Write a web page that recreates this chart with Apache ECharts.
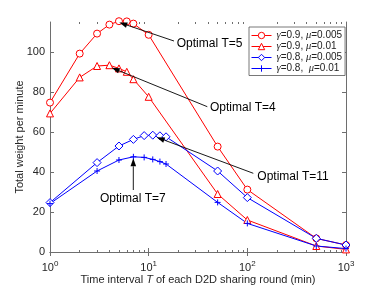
<!DOCTYPE html>
<html><head><meta charset="utf-8">
<script src="https://cdn.jsdelivr.net/npm/echarts@6/dist/echarts.min.js"></script>
<style>html,body{margin:0;padding:0;background:#fff}#c{width:382px;height:286px}</style>
</head><body><div id="c"></div>
<script>
// ---- data ----
const tRed = [1, 2, 3, 4, 5, 6, 7, 10, 50, 100, 500, 1000];
const tBlue = [1, 3, 5, 7, 9, 11, 13, 15, 50, 100, 500, 1000];
const g09mu005 = [74.7, 99.2, 109.2, 113.7, 115.4, 115.3, 114.2, 108.6, 52.7, 31.2, 6.8, 3.5];
const g09mu01  = [69.3, 87.3, 93.0, 93.4, 91.8, 90.1, 86.4, 77.6, 29.0, 16.0, 3.0, 1.3];
const g08mu005 = [24.7, 44.7, 53.0, 56.3, 58.2, 58.4, 58.1, 57.6, 40.5, 27.2, 6.8, 3.5];
const g08mu01  = [24.2, 40.5, 46.0, 47.6, 47.3, 46.3, 45.2, 44.0, 24.8, 14.3, 3.0, 1.7];
const seriesNames = ['γ=0.9, μ=0.005', 'γ=0.9, μ=0.01', 'γ=0.8, μ=0.005', 'γ=0.8,  μ=0.01'];
const yTicks = [0, 20, 40, 60, 80, 100];
const xMajor = [1, 10, 100, 1000];
const xMinor = [2,3,4,5,6,7,8,9,20,30,40,50,60,70,80,90,200,300,400,500,600,700,800,900];
const notes = ['Optimal T=5', 'Optimal T=4', 'Optimal T=11', 'Optimal T=7'];

const chart = echarts.init(document.getElementById('c'));
const FONT = 'Liberation Sans';
const AX = '#6e6e6e';
const zip = (xs, ys) => xs.map((x, i) => [x, ys[i]]);
const plusPath = 'path://M5,0L5,10M0,5L10,5';

function mkSeries(name, xs, ys, color, symbol, size) {
  const isPath = symbol.startsWith('path');
  return {
    name, type: 'line', data: zip(xs, ys), xAxisIndex: 0, yAxisIndex: 0,
    symbol, symbolSize: size, clip: false, animation: false,
    lineStyle: { color, width: 1 },
    itemStyle: { color: isPath ? color : '#ffffff', borderColor: color, borderWidth: 1 },
    emphasis: { disabled: true }
  };
}

function arrow(x1, y1, x2, y2) {
  const dx = x2 - x1, dy = y2 - y1, L = Math.hypot(dx, dy);
  const ux = dx / L, uy = dy / L, hl = 8, hw = 2.8;
  const bx = x2 - ux * hl, by = y2 - uy * hl;
  return [
    { type: 'line', shape: { x1, y1, x2: bx, y2: by }, style: { stroke: '#000', lineWidth: 0.9 }, z: 50 },
    { type: 'polygon', shape: { points: [[x2, y2], [bx - uy * hw, by + ux * hw], [bx + uy * hw, by - ux * hw]] },
      style: { fill: '#000' }, z: 50 }
  ];
}
function note(txt, x, y) {
  return { type: 'text', left: x, top: y - 7, z: 50,
    style: { text: txt, font: '12px "Liberation Sans"', fill: '#000' } };
}

const baseX = { type: 'log', logBase: 10, min: 1, max: 1000, gridIndex: 0, splitLine: { show: false } };

const option = {
  animation: false,
  backgroundColor: '#fff',
  grid: { left: 50, top: 22, width: 296, height: 230, containLabel: false, outerBoundsMode: 'none' },
  xAxis: [
    Object.assign({}, baseX, {
      position: 'bottom',
      axisLine: { show: true, lineStyle: { color: AX, width: 1 } },
      axisTick: { show: true, inside: true, length: 4, lineStyle: { color: AX }, customValues: xMajor },
      axisLabel: { customValues: xMajor, margin: 8, color: '#262626', fontFamily: FONT,
        formatter: v => '{b|10}{s|' + Math.round(Math.log10(v)) + '}',
        rich: { b: { fontSize: 11, fontFamily: FONT, color: '#262626' },
                s: { fontSize: 8, fontFamily: FONT, color: '#262626', padding: [0, 0, 7, 0] } } },
      name: 'Time interval {i|T} of each D2D sharing round (min)',
      nameLocation: 'middle', nameGap: 22, nameMoveOverlap: false,
      nameTextStyle: { fontSize: 11, fontFamily: FONT, color: '#262626', verticalAlign: 'top',
        rich: { i: { fontSize: 11, fontFamily: FONT, fontStyle: 'italic', color: '#262626' } } }
    }),
    Object.assign({}, baseX, {
      position: 'top',
      axisLine: { show: true, lineStyle: { color: AX, width: 1 } },
      axisTick: { show: true, inside: true, length: 4, lineStyle: { color: AX }, customValues: xMajor },
      axisLabel: { show: false }
    }),
    Object.assign({}, baseX, {
      position: 'bottom',
      axisLine: { show: false },
      axisTick: { show: true, inside: true, length: 2, lineStyle: { color: AX }, customValues: xMinor },
      axisLabel: { show: false }
    }),
    Object.assign({}, baseX, {
      position: 'top',
      axisLine: { show: false },
      axisTick: { show: true, inside: true, length: 2, lineStyle: { color: AX }, customValues: xMinor },
      axisLabel: { show: false }
    })
  ],
  yAxis: [
    { type: 'value', min: 0, max: 115, position: 'left', splitLine: { show: false },
      axisLine: { show: true, lineStyle: { color: AX, width: 1 } },
      axisTick: { show: true, inside: true, length: 4, lineStyle: { color: AX }, customValues: yTicks },
      axisLabel: { customValues: yTicks, margin: 5, fontSize: 11, fontFamily: FONT, color: '#262626' },
      name: 'Total weight per minute', nameLocation: 'middle', nameGap: 25, nameMoveOverlap: false,
      nameTextStyle: { fontSize: 11, fontFamily: FONT, color: '#262626' } },
    { type: 'value', min: 0, max: 115, position: 'right', splitLine: { show: false },
      axisLine: { show: true, lineStyle: { color: AX, width: 1 } },
      axisTick: { show: true, inside: true, length: 4, lineStyle: { color: AX }, customValues: yTicks },
      axisLabel: { show: false } }
  ],
  legend: {
    orient: 'vertical', left: 249, top: 27,
    itemWidth: 20, itemHeight: 8, itemGap: 0,
    padding: [3, 3, 1.5, 2],
    backgroundColor: '#fff', borderColor: '#555', borderWidth: 0.8, borderRadius: 0,
    selectedMode: false,
    itemStyle: { borderWidth: 1 },
    lineStyle: { width: 1 },
    data: seriesNames,
    formatter: n => n.replace(/([γμ])/g, '{g|$1}'),
    textStyle: { fontSize: 10, lineHeight: 10.7, fontFamily: FONT, color: '#222',
      rich: { g: { fontSize: 10.5, lineHeight: 10.7, fontFamily: 'Liberation Serif', fontStyle: 'italic', color: '#222' } } }
  },
  series: [
    mkSeries(seriesNames[0], tRed, g09mu005, '#ff0000', 'circle', 7),
    mkSeries(seriesNames[1], tRed, g09mu01, '#ff0000', 'triangle', 7),
    mkSeries(seriesNames[2], tBlue, g08mu005, '#0000ff', 'diamond', 8),
    mkSeries(seriesNames[3], tBlue, g08mu01, '#0000ff', plusPath, 6)
  ],
  graphic: [
    ...arrow(174, 41, 119.3, 22.5),
    ...arrow(207.3, 106.7, 111.7, 67.7),
    ...arrow(253.3, 173.3, 156.7, 137.3),
    ...arrow(133.3, 190, 133.3, 158.3),
    note(notes[0], 176.7, 44.3),
    note(notes[1], 210, 109),
    note(notes[2], 257.3, 177.3),
    note(notes[3], 100, 200)
  ]
};
chart.setOption(option);
</script></body></html>
